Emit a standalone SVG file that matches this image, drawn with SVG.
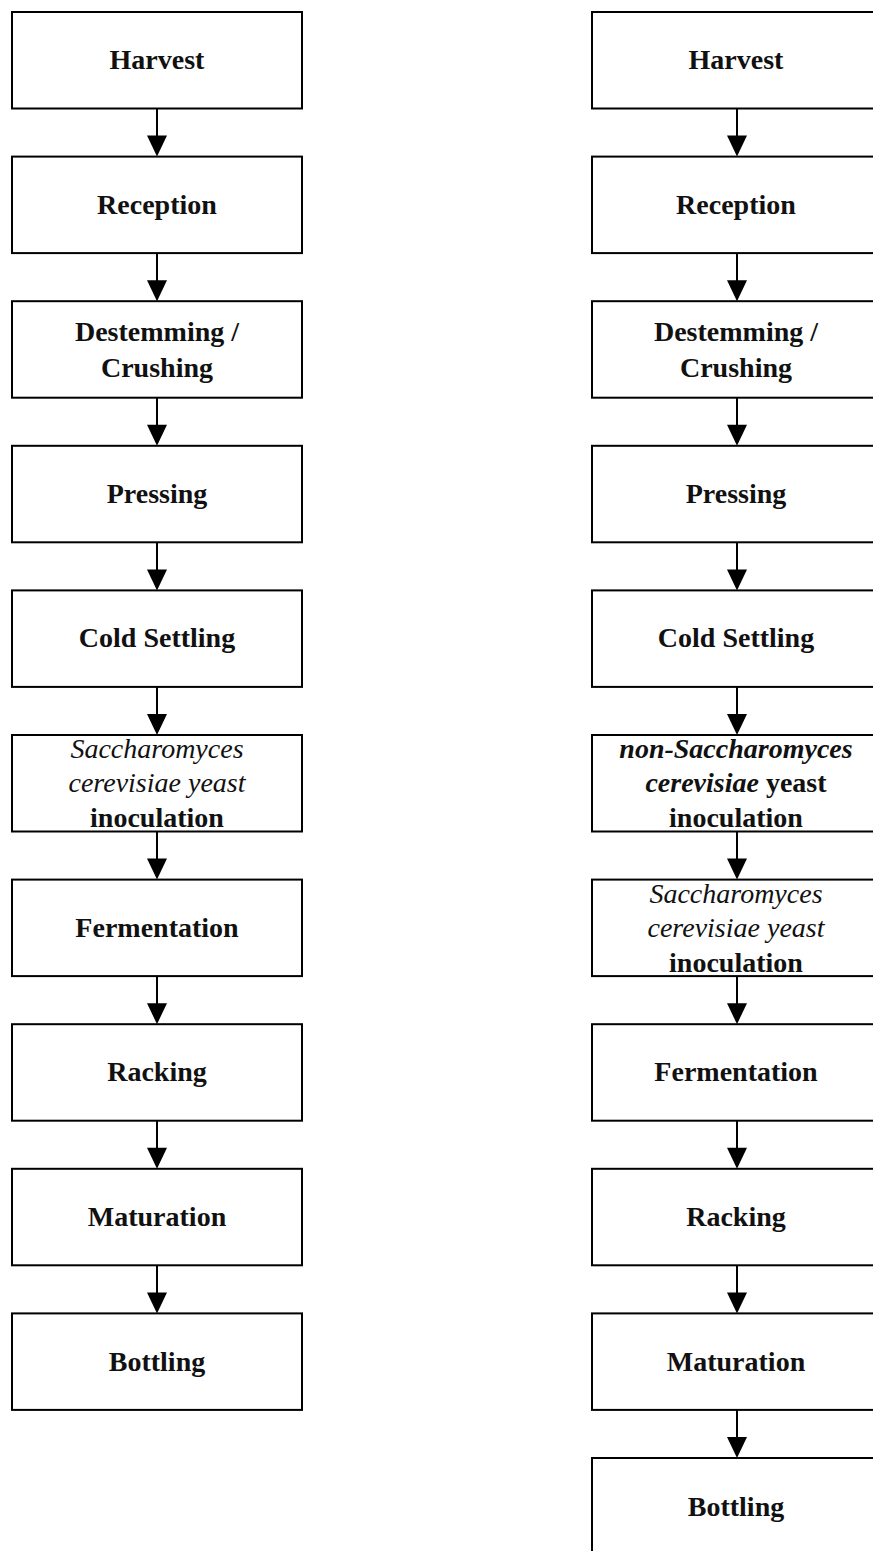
<svg xmlns="http://www.w3.org/2000/svg" width="873" height="1551" viewBox="0 0 873 1551">
<style>
.box{fill:#fff;stroke:#000;stroke-width:2}
.t{font-family:"Liberation Serif",serif;font-size:28px;font-weight:bold;text-anchor:middle;fill:#111}
.i{font-style:italic;font-weight:normal}
.bi{font-style:italic;font-weight:bold}
.c{stroke:#000;stroke-width:2;fill:none}
</style>
<defs>
<marker id="ah" markerUnits="userSpaceOnUse" markerWidth="22" markerHeight="22" viewBox="0 0 22 22" refX="11" refY="21" orient="auto-start-reverse">
</marker>
<path id="head" d="M-10,-21 L10,-21 L0,0 Z"/>
</defs>
<rect width="873" height="1551" fill="#fff"/>
<g id="connectors">
<path class="c" d="M157,108.5V140M157,253V285M157,398V430M157,542V574M157,687V719M157,831V863M157,976V1008M157,1121V1152M157,1265V1297"/>
<path class="c" d="M737,108.5V140M737,253V285M737,398V430M737,542V574M737,687V719M737,831V863M737,976V1008M737,1121V1152M737,1265V1297M737,1410V1442"/>
<g fill="#000">
<use href="#head" x="157" y="156.6"/><use href="#head" x="157" y="301.2"/><use href="#head" x="157" y="445.8"/><use href="#head" x="157" y="590.4"/><use href="#head" x="157" y="735"/><use href="#head" x="157" y="879.6"/><use href="#head" x="157" y="1024.2"/><use href="#head" x="157" y="1168.8"/><use href="#head" x="157" y="1313.4"/>
<use href="#head" x="737" y="156.6"/><use href="#head" x="737" y="301.2"/><use href="#head" x="737" y="445.8"/><use href="#head" x="737" y="590.4"/><use href="#head" x="737" y="735"/><use href="#head" x="737" y="879.6"/><use href="#head" x="737" y="1024.2"/><use href="#head" x="737" y="1168.8"/><use href="#head" x="737" y="1313.4"/><use href="#head" x="737" y="1458"/>
</g>
</g>
<g id="L1"><rect class="box" x="12" y="12" width="290" height="96.5"/><text class="t" x="157" y="69">Harvest</text></g>
<g id="L2"><rect class="box" x="12" y="156.6" width="290" height="96.5"/><text class="t" x="157" y="214">Reception</text></g>
<g id="L3"><rect class="box" x="12" y="301.2" width="290" height="96.5"/><text class="t" x="157" y="341">Destemming /</text><text class="t" x="157" y="377">Crushing</text></g>
<g id="L4"><rect class="box" x="12" y="445.8" width="290" height="96.5"/><text class="t" x="157" y="503">Pressing</text></g>
<g id="L5"><rect class="box" x="12" y="590.4" width="290" height="96.5"/><text class="t" x="157" y="647">Cold Settling</text></g>
<g id="L6"><rect class="box" x="12" y="735" width="290" height="96.5"/><text class="t i" x="157" y="758">Saccharomyces</text><text class="t i" x="157" y="792">cerevisiae yeast</text><text class="t" x="157" y="827">inoculation</text></g>
<g id="L7"><rect class="box" x="12" y="879.6" width="290" height="96.5"/><text class="t" x="157" y="937">Fermentation</text></g>
<g id="L8"><rect class="box" x="12" y="1024.2" width="290" height="96.5"/><text class="t" x="157" y="1081">Racking</text></g>
<g id="L9"><rect class="box" x="12" y="1168.8" width="290" height="96.5"/><text class="t" x="157" y="1226">Maturation</text></g>
<g id="L10"><rect class="box" x="12" y="1313.4" width="290" height="96.5"/><text class="t" x="157" y="1371">Bottling</text></g>
<g id="R1"><rect class="box" x="592" y="12" width="290" height="96.5"/><text class="t" x="736" y="69">Harvest</text></g>
<g id="R2"><rect class="box" x="592" y="156.6" width="290" height="96.5"/><text class="t" x="736" y="214">Reception</text></g>
<g id="R3"><rect class="box" x="592" y="301.2" width="290" height="96.5"/><text class="t" x="736" y="341">Destemming /</text><text class="t" x="736" y="377">Crushing</text></g>
<g id="R4"><rect class="box" x="592" y="445.8" width="290" height="96.5"/><text class="t" x="736" y="503">Pressing</text></g>
<g id="R5"><rect class="box" x="592" y="590.4" width="290" height="96.5"/><text class="t" x="736" y="647">Cold Settling</text></g>
<g id="R6"><rect class="box" x="592" y="735" width="290" height="96.5"/><text class="t bi" x="736" y="758">non-Saccharomyces</text><text class="t" x="736" y="792"><tspan class="bi">cerevisiae</tspan> yeast</text><text class="t" x="736" y="827">inoculation</text></g>
<g id="R7"><rect class="box" x="592" y="879.6" width="290" height="96.5"/><text class="t i" x="736" y="903">Saccharomyces</text><text class="t i" x="736" y="937">cerevisiae yeast</text><text class="t" x="736" y="972">inoculation</text></g>
<g id="R8"><rect class="box" x="592" y="1024.2" width="290" height="96.5"/><text class="t" x="736" y="1081">Fermentation</text></g>
<g id="R9"><rect class="box" x="592" y="1168.8" width="290" height="96.5"/><text class="t" x="736" y="1226">Racking</text></g>
<g id="R10"><rect class="box" x="592" y="1313.4" width="290" height="96.5"/><text class="t" x="736" y="1371">Maturation</text></g>
<g id="R11"><rect class="box" x="592" y="1458" width="290" height="96.5"/><text class="t" x="736" y="1516">Bottling</text></g>
</svg>
